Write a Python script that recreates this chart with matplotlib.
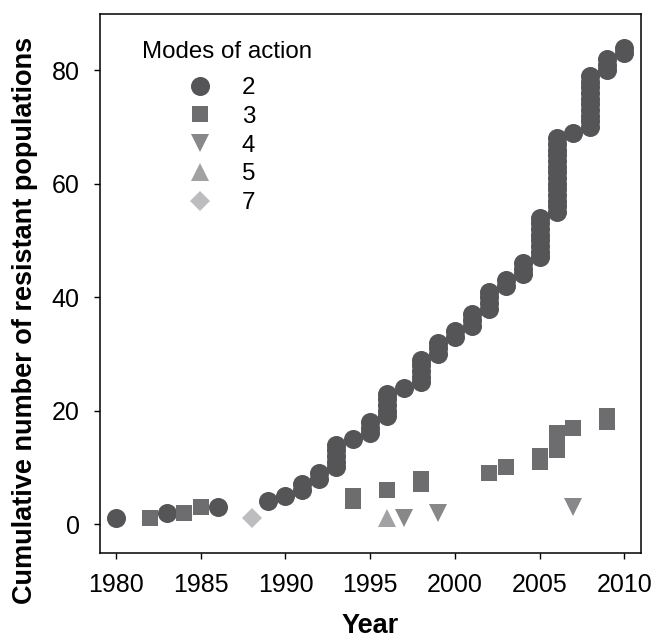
import numpy as np
import matplotlib.pyplot as plt

plt.rcParams['font.family'] = ['Liberation Sans', 'DejaVu Sans']

# year of first report and number of new resistant populations that year
mode2_years = [1980, 1983, 1986, 1989, 1990, 1991, 1992, 1993, 1994, 1995, 1996, 1997,
               1998, 1999, 2000, 2001, 2002, 2003, 2004, 2005, 2006, 2007, 2008, 2009, 2010]
mode2_new = [1, 1, 1, 1, 1, 2, 2, 5, 1, 3, 5, 1,
             5, 3, 2, 3, 4, 2, 3, 8, 14, 1, 10, 3, 2]

mode3_years = [1982, 1984, 1985, 1994, 1996, 1998, 2002, 2003, 2005, 2006, 2007, 2009]
mode3_new = [1, 1, 1, 2, 1, 2, 1, 1, 2, 4, 1, 2]

mode4_years = [1997, 1999, 2007]
mode4_new = [1, 1, 1]

mode5_years = [1996]
mode5_new = [1]

mode7_years = [1988]
mode7_new = [1]

modes = ["2", "3", "4", "5", "7"]


def expand(years, new):
    # one point per population, y = cumulative count
    xs, ys = [], []
    total = 0
    for yr, n in zip(years, new):
        for k in range(n):
            total += 1
            xs.append(yr)
            ys.append(total)
    return xs, ys


series = [
    (mode2_years, mode2_new, "o", 13.7, "#555558"),
    (mode3_years, mode3_new, "s", 12.2, "#6d6d6f"),
    (mode4_years, mode4_new, "v", 13.0, "#88888a"),
    (mode5_years, mode5_new, "^", 13.0, "#a2a2a4"),
    (mode7_years, mode7_new, "D", 10.5, "#bdbdbf"),
]

fig = plt.figure(figsize=(6.53, 6.42), dpi=100)
ax = fig.add_axes([0.153, 0.1386, 0.829, 0.8403])

for (yrs, new, mk, ms, col), lab in zip(series, modes):
    xs, ys = expand(yrs, new)
    ax.plot(xs, ys, linestyle="none", marker=mk, markersize=ms,
            color=col, markeredgewidth=0, label=lab)

ax.set_xlim(1979.05, 2011.0)
ax.set_ylim(-5.1, 90)
ax.set_xticks([1980, 1985, 1990, 1995, 2000, 2005, 2010])
ax.set_yticks([0, 20, 40, 60, 80])

for s in ax.spines.values():
    s.set_linewidth(1.1)
ax.tick_params(axis="both", direction="out", length=4.5, width=1.0,
               labelsize=18, pad=10)

ax.set_xlabel("Year", fontsize=19.5, fontweight="bold")
ax.set_ylabel("Cumulative number of resistant populations", fontsize=19.5, fontweight="bold")
ax.xaxis.set_label_coords(0.5, -0.111)
ax.yaxis.set_label_coords(-0.115, 0.432)

ax.text(0.0776, 0.928, "Modes of action", transform=ax.transAxes,
        fontsize=17.4, va="center", ha="left")
ax.legend(loc="upper left", bbox_to_anchor=(0.144, 0.900), frameon=False,
          fontsize=17.4, handlelength=1.0, handletextpad=1.24, labelspacing=0.28,
          borderaxespad=0)

fig.savefig("out.png", dpi=100)
